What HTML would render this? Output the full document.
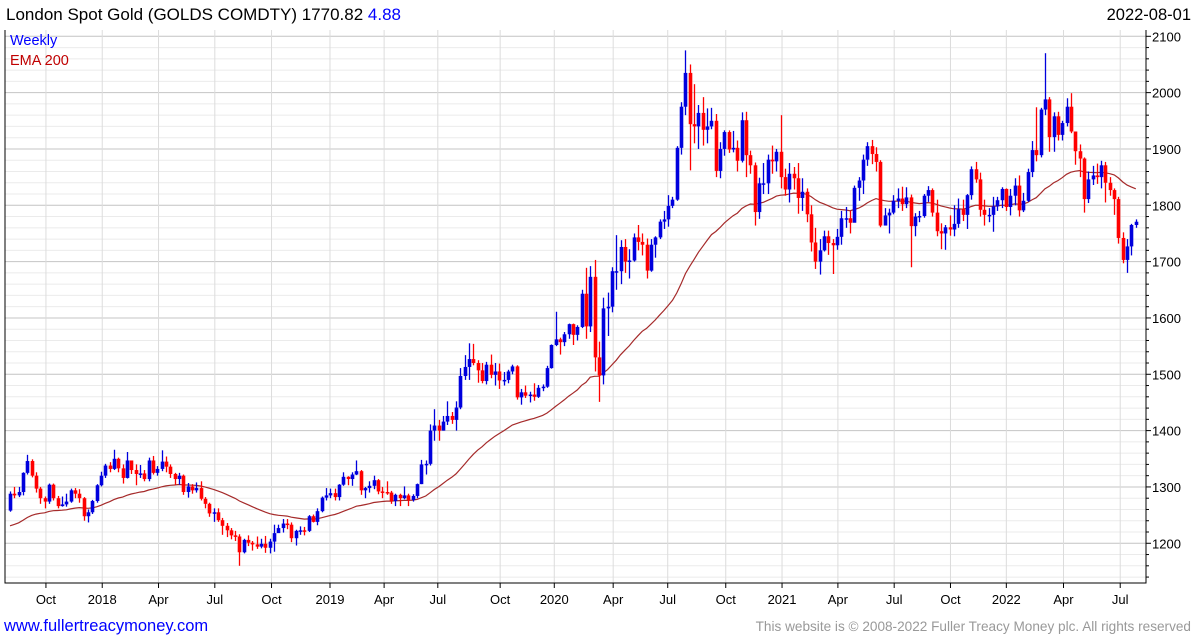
<!DOCTYPE html>
<html><head><meta charset="utf-8"><style>
body{margin:0;background:#fff;width:1195px;height:640px;overflow:hidden;font-family:"Liberation Sans",sans-serif}
svg{position:absolute;left:0;top:0}
</style></head><body>
<svg id="c" width="1195" height="640">
<text x="6" y="20" font-size="17" fill="#000">London Spot Gold (GOLDS COMDTY) 1770.82 <tspan fill="#0000ff">4.88</tspan></text>
<text x="1191" y="20" font-size="16.5" fill="#000" text-anchor="end">2022-08-01</text>
<text x="10" y="45" font-size="14.5" fill="#0000ff">Weekly</text>
<text x="10" y="65" font-size="14.5" fill="#c00000">EMA 200</text>
<text x="4" y="631" font-size="16.5" fill="#0000ff">www.fullertreacymoney.com</text>
<text x="1191" y="631" font-size="13.6" fill="#999" text-anchor="end">This website is © 2008-2022 Fuller Treacy Money plc. All rights reserved</text>
</svg>
<script>
const yTicks=[1200,1300,1400,1500,1600,1700,1800,1900,2000,2100];
const xLabels=["Oct","2018","Apr","Jul","Oct","2019","Apr","Jul","Oct","2020","Apr","Jul","Oct","2021","Apr","Jul","Oct","2022","Apr","Jul"];
const xLabelWeek=[8.3,21.3,34.3,47.3,60.4,73.9,86.4,98.8,113.2,125.7,139.3,151.9,165.3,178.3,191.2,204.2,217.2,230.1,243.3,256.4];
const firstOpen=1258;
const closes=[1288,1285,1291,1325,1346,1320,1297,1280,1274,1304,1280,1266,1269,1274,1294,1288,1280,1248,1255,1275,1303,1320,1338,1332,1350,1333,1316,1347,1330,1323,1324,1314,1347,1325,1332,1345,1336,1323,1314,1320,1291,1301,1294,1298,1279,1270,1253,1255,1241,1231,1223,1214,1212,1184,1206,1201,1198,1194,1199,1192,1203,1218,1227,1235,1233,1209,1222,1223,1222,1248,1238,1257,1281,1285,1289,1282,1304,1318,1314,1322,1328,1294,1298,1302,1312,1292,1291,1290,1275,1286,1280,1285,1277,1284,1305,1340,1341,1400,1409,1400,1416,1426,1419,1441,1497,1513,1527,1520,1507,1488,1517,1499,1505,1489,1490,1505,1514,1459,1468,1462,1464,1460,1476,1478,1511,1552,1562,1557,1571,1589,1570,1584,1643,1585,1673,1530,1498,1617,1620,1683,1683,1726,1700,1702,1743,1735,1730,1684,1730,1743,1771,1775,1799,1810,1902,1975,2035,1944,1940,1964,1934,1940,1950,1861,1900,1930,1899,1902,1879,1951,1889,1871,1788,1839,1839,1881,1878,1895,1850,1828,1856,1848,1813,1824,1784,1734,1700,1720,1745,1733,1729,1744,1777,1777,1769,1831,1844,1881,1905,1891,1877,1764,1782,1787,1808,1812,1802,1814,1763,1780,1781,1817,1827,1787,1754,1750,1761,1757,1767,1793,1783,1818,1864,1846,1792,1783,1783,1798,1809,1829,1797,1817,1835,1791,1808,1859,1898,1889,1970,1988,1921,1958,1925,1946,1975,1931,1896,1883,1811,1846,1853,1850,1871,1840,1827,1811,1742,1703,1727,1765,1770.82];
const highs=[1292,1300,1300,1326,1357,1349,1326,1300,1283,1306,1306,1284,1283,1288,1297,1298,1296,1282,1260,1277,1305,1327,1341,1344,1366,1352,1340,1362,1342,1340,1339,1330,1352,1355,1337,1365,1354,1340,1325,1325,1322,1307,1305,1308,1310,1282,1272,1262,1262,1245,1236,1227,1222,1216,1208,1214,1204,1212,1208,1213,1208,1233,1233,1243,1243,1237,1224,1230,1229,1250,1251,1262,1283,1298,1297,1297,1305,1326,1319,1326,1347,1330,1300,1310,1320,1314,1300,1310,1293,1288,1288,1301,1288,1287,1306,1348,1347,1411,1438,1419,1426,1452,1433,1452,1511,1534,1555,1554,1525,1520,1522,1535,1520,1519,1504,1508,1517,1516,1474,1480,1469,1484,1481,1482,1515,1553,1611,1565,1575,1590,1590,1587,1650,1689,1692,1703,1558,1636,1645,1690,1747,1738,1740,1722,1750,1765,1750,1741,1740,1745,1775,1790,1818,1815,1905,1983,2075,2050,2015,1978,1992,1972,1973,1962,1912,1933,1933,1932,1915,1965,1966,1897,1876,1849,1875,1890,1906,1900,1960,1865,1875,1868,1875,1848,1830,1800,1760,1740,1755,1755,1740,1758,1790,1797,1790,1835,1850,1890,1912,1916,1903,1880,1795,1794,1818,1830,1833,1832,1819,1786,1790,1820,1834,1830,1810,1768,1765,1782,1800,1812,1810,1820,1869,1877,1858,1810,1795,1815,1815,1832,1830,1829,1848,1853,1822,1865,1914,1974,1973,2070,1992,1965,1966,1950,1990,1999,1920,1908,1885,1860,1870,1874,1879,1877,1850,1830,1815,1752,1740,1767,1775];
const lows=[1256,1280,1282,1285,1322,1317,1290,1270,1262,1270,1276,1262,1265,1265,1272,1280,1272,1240,1237,1252,1272,1301,1316,1326,1330,1326,1306,1315,1323,1303,1316,1310,1310,1322,1320,1328,1326,1316,1304,1304,1286,1281,1288,1290,1276,1262,1247,1238,1238,1215,1211,1207,1204,1160,1182,1195,1187,1190,1191,1183,1182,1185,1220,1219,1225,1202,1196,1215,1214,1220,1237,1232,1255,1276,1280,1276,1276,1302,1303,1302,1321,1286,1280,1290,1296,1287,1280,1286,1270,1266,1266,1278,1266,1274,1280,1305,1322,1338,1382,1382,1400,1410,1412,1400,1438,1490,1490,1516,1485,1484,1482,1493,1480,1474,1480,1484,1500,1455,1446,1458,1450,1453,1458,1470,1476,1510,1550,1535,1550,1563,1552,1560,1582,1563,1575,1505,1451,1482,1568,1610,1650,1660,1680,1670,1700,1720,1711,1670,1682,1707,1740,1758,1762,1795,1808,1890,1960,1862,1910,1900,1906,1910,1935,1850,1848,1888,1893,1894,1860,1876,1850,1856,1764,1776,1820,1820,1856,1860,1830,1817,1805,1828,1785,1790,1770,1718,1687,1677,1718,1712,1678,1721,1730,1760,1750,1770,1808,1820,1870,1873,1860,1761,1766,1750,1784,1795,1790,1795,1690,1745,1770,1778,1806,1780,1745,1722,1721,1746,1745,1760,1772,1758,1810,1840,1780,1764,1770,1753,1790,1795,1790,1782,1800,1780,1788,1806,1850,1878,1885,1960,1895,1895,1915,1915,1940,1928,1872,1850,1787,1804,1836,1838,1830,1805,1817,1783,1732,1697,1680,1711,1760];
const emaSeed=1228, emaPeriod=40;

const NS="http://www.w3.org/2000/svg";
const svg=document.getElementById('c');
const L=5,R=1146,T=30,B=583;
const y=v=>36.3+(2100-v)*0.5633;
const x=i=>10+i*4.33;
function el(t,a,p){const e=document.createElementNS(NS,t);for(const k in a)e.setAttribute(k,a[k]);(p||svg).appendChild(e);return e;}
const g=el('g',{});
svg.insertBefore(g,svg.firstChild);
for(let v=1140;v<=2100;v+=20){
  const major=v%100===0;
  const ln=el('line',{x1:L,x2:R,y1:y(v),y2:y(v),stroke:major?'#c4c4c4':'#ebebeb','stroke-width':1},g);
  
  
  const tk=el('line',{x1:R,x2:R+(major?5:3),y1:y(v),y2:y(v),stroke:'#000'});
  
  
}
yTicks.forEach(v=>{
  const t=el('text',{x:1152,y:y(v)+5,'font-size':13,fill:'#000'});t.textContent=v;
  
  
});
xLabels.forEach((s,k)=>{
  const xx=x(xLabelWeek[k]);
  const ln=el('line',{x1:xx,x2:xx,y1:T,y2:B,stroke:'#dcdcdc'},g);
  
  
  const tk=el('line',{x1:xx,x2:xx,y1:B,y2:B+5,stroke:'#000'});
  
  
  const t=el('text',{x:xx,y:604,'font-size':13,fill:'#000','text-anchor':'middle'});t.textContent=s;
  
  
});
const frame=el('path',{d:`M${L},${T}V${B}H${R}V${T}`,fill:'none',stroke:'#000'});


let e=emaSeed,pts=[];const a=2/(emaPeriod+1);
closes.forEach((c,i)=>{e=e+a*(c-e);pts.push(x(i).toFixed(1)+','+y(e).toFixed(1));});
const ema=el('polyline',{points:pts.join(' '),fill:'none',stroke:'#a52a2a','stroke-width':1.2});


closes.forEach((c,i)=>{
  const o=i===0?firstOpen:closes[i-1];
  const col=c>=o?'#0000dd':'#ff0000';
  const xx=Math.round(x(i))+0.5;
  const cg=el('g',{});
  
  
  el('line',{x1:xx,x2:xx,y1:y(highs[i]),y2:y(lows[i]),stroke:col,'stroke-width':1.3},cg);
  const top=y(Math.max(o,c)),bot=y(Math.min(o,c));
  el('rect',{x:xx-1.8,y:top,width:3.6,height:Math.max(1.5,bot-top),fill:col},cg);
});
</script>
</body></html>
